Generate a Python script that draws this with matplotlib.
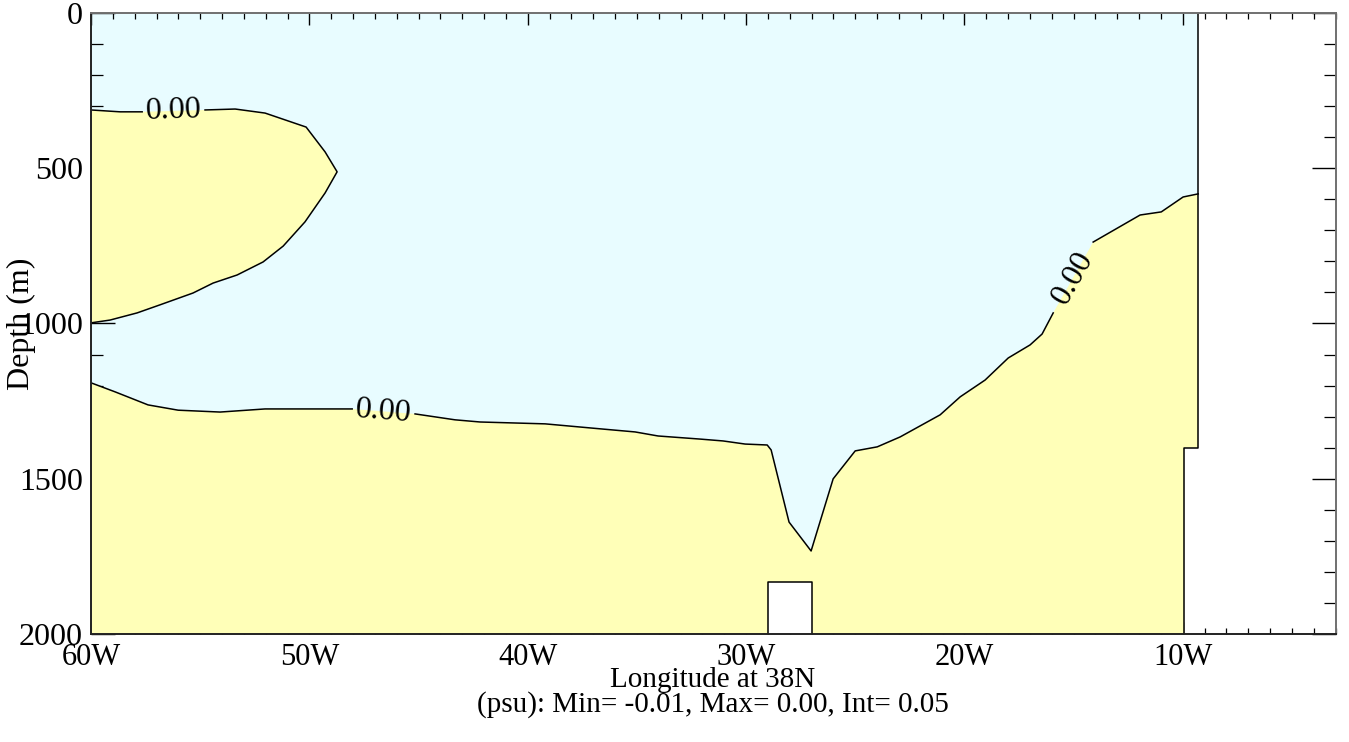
import matplotlib
matplotlib.use('Agg')
import matplotlib.pyplot as plt
import numpy as np
from matplotlib.ticker import MultipleLocator, FuncFormatter

plt.rcParams.update({
    'font.family': ['Liberation Serif', 'DejaVu Serif'],
    'font.size': 22,
})

# ---------- data: zero contours read off the section ----------
# upper lens of positive anomaly (closed on the 60W edge)
lens_lon = [-60.00, -58.67, -57.66, -54.78, -53.40, -52.03, -50.15, -49.28, -48.73,
            -49.28, -50.20, -51.20, -52.12, -53.31, -54.41, -55.33, -56.84, -57.89,
            -59.13, -60.00]
lens_dep = [313, 319, 319, 313, 310, 323, 368, 448, 512,
            580, 673, 751, 802, 844, 870, 902, 940, 966,
            989, 998]

# deep zero contour, west to east
deep_lon = [-60.00, -58.90, -57.39, -56.01, -54.09, -52.03, -48.04, -45.16, -43.33,
            -42.18, -39.20, -36.68, -35.08, -34.03, -32.10, -31.05, -30.04, -29.03,
            -28.85, -28.03, -27.02, -26.01, -25.00, -23.99, -22.94, -21.11, -20.19,
            -19.05, -17.99, -16.99, -16.44, -15.93, -14.10, -11.95, -10.98, -9.98,
            -9.29]
deep_dep = [1191, 1220, 1262, 1279, 1285, 1275, 1275, 1291, 1310,
            1317, 1323, 1339, 1349, 1362, 1372, 1378, 1388, 1391,
            1407, 1639, 1732, 1500, 1410, 1397, 1365, 1294, 1236,
            1182, 1111, 1069, 1034, 966, 738, 651, 641, 593,
            583]

# land (iberian shelf) and bottom topography
coast_lon = [-9.29, -9.29, -9.93, -9.93]
coast_dep = [0, 1400, 1400, 2000]
ridge_lon = [-29.0, -29.0, -27.0, -27.0]
ridge_dep = [2000, 1832, 1832, 2000]

# contour labels: (contour, index where the line is broken, text)
labels = [('lens', 2, '0.00'), ('deep', 6, '0.00'), ('deep', 31, '0.00')]

x_major = [-60, -50, -40, -30, -20, -10]
y_major = [0, 500, 1000, 1500, 2000]

C_NEG = '#E8FCFF'
C_POS = '#FFFFB8'

fig = plt.figure(figsize=(13.49, 7.42), dpi=100)
ax = fig.add_axes([0.0675, 0.1452, 0.9225, 0.8377])
ax.set_xlim(-60, -3)
ax.set_ylim(2000, 0)

# ocean (negative everywhere first)
ocean_lon = [-60.0] + coast_lon + [-60.0]
ocean_dep = [0] + coast_dep + [2000]
ax.fill(ocean_lon, ocean_dep, color=C_NEG, lw=0, zorder=1)

# positive regions
ax.fill(lens_lon, lens_dep, color=C_POS, lw=0, zorder=2)
ax.fill(deep_lon + coast_lon[1:] + [-60.0], deep_dep + coast_dep[1:] + [2000],
        color=C_POS, lw=0, zorder=2)
ax.fill(ridge_lon, ridge_dep, color='white', lw=0, zorder=3)

# contour lines with gaps for labels
curves = {'lens': (lens_lon, lens_dep), 'deep': (deep_lon, deep_dep)}
for name, (lo, de) in curves.items():
    cuts = sorted(i for n, i, _ in labels if n == name)
    start = 0
    for i in cuts:
        ax.plot(lo[start:i + 1], de[start:i + 1], color='black', lw=1.1, zorder=4)
        start = i + 1
    ax.plot(lo[start:], de[start:], color='black', lw=1.1, zorder=4)

fig.canvas.draw()
for name, i, txt in labels:
    lo, de = curves[name]
    p0 = ax.transData.transform((lo[i], de[i]))
    p1 = ax.transData.transform((lo[i + 1], de[i + 1]))
    ang = np.degrees(np.arctan2(p1[1] - p0[1], p1[0] - p0[0]))
    if ang > 90:
        ang -= 180
    elif ang < -90:
        ang += 180
    ax.text((lo[i] + lo[i + 1]) / 2, (de[i] + de[i + 1]) / 2, txt,
            rotation=ang, rotation_mode='anchor', ha='center', va='center',
            fontsize=23, zorder=5)

# land outline and seamount
ax.plot(coast_lon, coast_dep, color='black', lw=1.1, zorder=4)
ax.plot(ridge_lon, ridge_dep, color='black', lw=1.1, zorder=4)

# ---------- axes ----------
ax.xaxis.set_major_locator(plt.FixedLocator(x_major))
ax.xaxis.set_minor_locator(MultipleLocator(1))
ax.xaxis.set_major_formatter(FuncFormatter(lambda v, p: '%dW' % abs(v)))
ax.yaxis.set_major_locator(plt.FixedLocator(y_major))
ax.yaxis.set_minor_locator(MultipleLocator(100))

ax.tick_params(axis='x', which='major', direction='in', length=8.5, width=1,
               top=True, bottom=True, pad=6, labelsize=22)
ax.tick_params(axis='x', which='minor', direction='in', length=4, width=0.9,
               top=True, bottom=True)
ax.tick_params(axis='y', which='major', direction='in', length=17, width=1,
               left=True, right=True, pad=6, labelsize=23)
ax.tick_params(axis='y', which='minor', direction='in', length=8.5, width=0.9,
               left=True, right=True)

for side in ['left', 'bottom']:
    ax.spines[side].set_color('#222222')
    ax.spines[side].set_linewidth(1.4)
for side in ['top', 'right']:
    ax.spines[side].set_color('#707070')
    ax.spines[side].set_linewidth(1.4)
for s in ax.spines.values():
    s.set_zorder(6)

ax.set_ylabel('Depth (m)', fontsize=23)
ax.yaxis.set_label_coords(-0.044, 0.5)
fig.text(0.5285, 1 - 680 / 742, 'Longitude at 38N', ha='center', va='center',
         fontsize=21)
fig.text(0.5285, 1 - 705 / 742, '(psu): Min= -0.01, Max= 0.00, Int= 0.05',
         ha='center', va='center', fontsize=21)

fig.savefig('out.png', dpi=100, facecolor='white')
